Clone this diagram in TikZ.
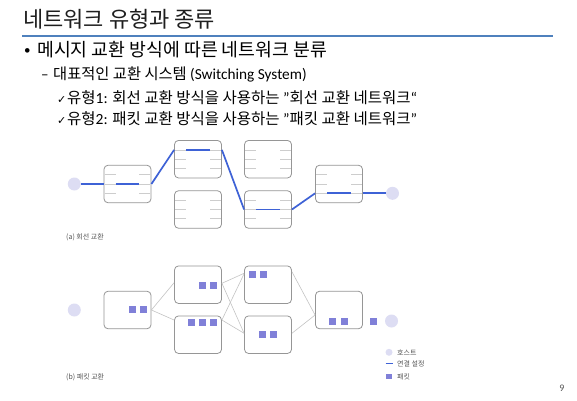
\documentclass[tikz,border=0pt]{standalone}
\usepackage{fontspec}
\setmainfont{Carlito}
\newfontfamily\kr{Noto Sans CJK KR}
\newfontfamily\symf{DejaVu Sans}
\usetikzlibrary{calc}

\definecolor{rulebl}{RGB}{79,129,189}
\definecolor{linkbl}{RGB}{62,98,214}
\definecolor{boxgr}{RGB}{150,150,150}
\definecolor{stubgr}{RGB}{205,205,205}
\definecolor{hostc}{RGB}{221,221,243}
\definecolor{pktc}{RGB}{128,128,216}
\definecolor{wiregr}{RGB}{196,196,196}
\definecolor{capgr}{RGB}{85,85,85}
\definecolor{titlec}{RGB}{30,30,30}

\tikzset{
  swbox/.style={draw=boxgr, line width=0.8pt, rounded corners=4pt,
    minimum width=47pt, minimum height=37.5pt, inner sep=0pt},
  host/.style={circle, fill=hostc, minimum size=13pt, inner sep=0pt},
  pkt/.style={fill=pktc, minimum size=7pt, inner sep=0pt},
  circuit/.style={draw=linkbl, line width=1.7pt},
  wire/.style={draw=wiregr, line width=0.6pt},
  stub/.style={draw=stubgr, line width=0.8pt},
  txt/.style={anchor=base west, inner sep=0pt},
  captxt/.style={anchor=west, inner sep=0pt, text=capgr,
    font=\kr\fontsize{7}{8}\selectfont},
}

\begin{document}
\begin{tikzpicture}[x=1pt, y=1pt]
\fill[white] (0,0) rectangle (577,400);
\useasboundingbox (0,0) rectangle (577,400);

% ---- heading and text lines ----
\node[txt, text=titlec, font=\kr\fontsize{22}{26}\selectfont] (title) at (23,373) {네트워크 유형과 종류};
\coordinate (ruleL) at (22,364);
\coordinate (ruleR) at (553,364);
\draw[rulebl, line width=1.6pt] (ruleL) -- (ruleR);

\node[txt, font=\fontsize{13}{16}\selectfont] (bul) at (24,345) {•};
\node[txt, font=\kr\fontsize{18.3}{22}\selectfont] (l1) at (37,344) {메시지 교환 방식에 따른 네트워크 분류};

\node[txt, font=\fontsize{15}{18}\selectfont] (dash) at (41,321) {–};
\node[txt, font=\fontsize{15.3}{18}\selectfont] (l2) at (53,321) {{\kr 대표적인 교환 시스템} (Switching System)};

\node[txt, font=\symf\fontsize{11}{13}\selectfont] (ck1) at (57,297) {✓};
\node[txt, font=\fontsize{15.5}{18}\selectfont] (l3) at (67,297)
  {{\kr 유형}1: {\kr 회선 교환 방식을 사용하는} "{\kr 회선 교환 네트워크}“};
\node[txt, font=\symf\fontsize{11}{13}\selectfont] (ck2) at (57,276) {✓};
\node[txt, font=\fontsize{15.5}{18}\selectfont] (l4) at (67,276)
  {{\kr 유형}2: {\kr 패킷 교환 방식을 사용하는} "{\kr 패킷 교환 네트워크}"};

% ---- (a) circuit switching ----
\node[swbox] (cA) at (127.5,216) {};
\node[swbox] (cB) at (198,240.8) {};
\node[swbox] (cC) at (198,190.5) {};
\node[swbox] (cD) at (268,240.8) {};
\node[swbox] (cE) at (268,190.5) {};
\node[swbox] (cF) at (339,216) {};
\node[host] (chL) at (74.3,216) {};
\node[host] (chR) at (392.5,206.7) {};

\foreach \n in {cA,cB,cC,cD,cE,cF}{
  \foreach \r in {9.3,0,-9.3}{
    \draw[stub] ($(\n.west)+(1,\r)$) -- ++(11,0);
    \draw[stub] ($(\n.east)+(-1,\r)$) -- ++(-11,0);
  }
}

% established path through the switches
\draw[circuit] ($(cA.west)+(12,0)$) -- ($(cA.east)+(-12,0)$);
\draw[circuit] ($(cB.west)+(12,9.3)$) -- ($(cB.east)+(-12,9.3)$);
\draw[circuit] ($(cE.west)+(12,0)$) -- ($(cE.east)+(-12,0)$);
\draw[circuit] ($(cF.west)+(12,-9.3)$) -- ($(cF.east)+(-12,-9.3)$);

\draw[circuit] (chL) -- (cA.west);
\draw[circuit] (cA.east) -- ($(cB.west)+(0,9.3)$);
\draw[circuit] ($(cB.east)+(0,9.3)$) -- (cE.west);
\draw[circuit] (cE.east) -- ($(cF.west)+(0,-9.3)$);
\draw[circuit] ($(cF.east)+(0,-9.3)$) -- (chR);

\node[captxt] (capA) at (66,163) {(a) 회선 교환};

% ---- (b) packet switching ----
\node[swbox] (pA) at (127.5,90) {};
\node[swbox] (pB) at (198,115.3) {};
\node[swbox] (pC) at (198,65.3) {};
\node[swbox] (pD) at (268,115.3) {};
\node[swbox] (pE) at (268,65.3) {};
\node[swbox] (pF) at (339,90) {};
\node[host] (phL) at (74.3,90) {};
\node[host] (phR) at (391.5,79) {};

\draw[wire] (pA.east) -- ($(pB.west)+(0,2)$);
\draw[wire] (pA.east) -- ($(pC.west)+(0,14.7)$);
\draw[wire] ($(pB.east)+(0,1.4)$) -- ($(pD.west)+(0,11.4)$);
\draw[wire] ($(pB.east)+(0,1.4)$) -- ($(pE.west)+(0,1.4)$);
\draw[wire] ($(pC.east)+(0,14.7)$) -- ($(pD.west)+(0,11)$);
\draw[wire] ($(pC.east)+(0,14.7)$) -- ($(pE.west)+(0,1.4)$);
\draw[wire] ($(pD.east)+(0,13)$) -- ($(pF.west)+(0,-5)$);
\draw[wire] ($(pE.east)+(0,1.4)$) -- ($(pF.west)+(0,-5)$);

\foreach \x/\y [count=\i] in {132.3/90.7, 143.7/90.7,
    202.3/114.3, 213.3/114.3,
    191/77.3, 202.3/77.3, 213.3/77.3,
    252/126, 263.3/126,
    262.3/65.3, 273.3/65.3,
    332.7/79, 344/79, 373/79}
  \node[pkt] (pk\i) at (\x,\y) {};

\node[captxt] (capB) at (66,22.3) {(b) 패킷 교환};

% ---- legend ----
\node[circle, fill=hostc, minimum size=7pt, inner sep=0pt] (lgH) at (389,47.7) {};
\node[captxt] (lgHt) at (397,47.7) {호스트};
\coordinate (lgL1) at (385.5,36.3);
\coordinate (lgL2) at (393,36.3);
\draw[draw=linkbl, line width=1.3pt] (lgL1) -- (lgL2);
\node[captxt] (lgLt) at (397,36.3) {연결 설정};
\node[fill=pktc, minimum size=5.5pt, inner sep=0pt] (lgP) at (389,23.3) {};
\node[captxt] (lgPt) at (397,23.3) {패킷};

\node[text=capgr, font=\fontsize{10}{12}\selectfont, inner sep=0pt] (pg) at (562,12) {9};
\end{tikzpicture}
\end{document}
